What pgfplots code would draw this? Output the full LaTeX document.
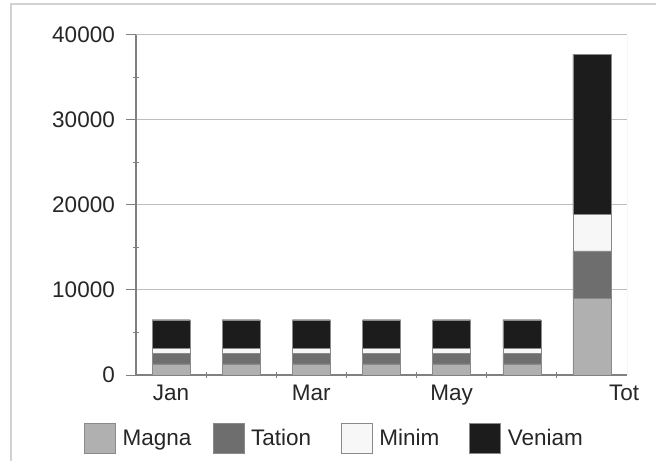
\documentclass[border=0pt]{standalone}
\usepackage{pgfplots}
\pgfplotsset{compat=1.18}
\usepackage{fontspec}
\setmainfont{Liberation Sans}
\definecolor{magna}{HTML}{B0B0B0}
\definecolor{tation}{HTML}{6E6E6E}
\definecolor{minim}{HTML}{F7F7F7}
\definecolor{veniam}{HTML}{1C1C1C}
\definecolor{bardraw}{HTML}{8A8A8A}
\definecolor{gridgray}{HTML}{BDBDBD}
\definecolor{axisgray}{HTML}{808080}
\definecolor{framegray}{HTML}{D2D2D2}
\definecolor{textgray}{HTML}{262626}
\begin{document}
\begin{tikzpicture}
\path[use as bounding box] (0,0) rectangle (656bp,461bp);
\draw[color=framegray, line width=2.2bp] (11bp,0) -- (11bp,457bp) -- (656bp,457bp);
\begin{axis}[
  at={(136bp,86bp)}, anchor=south west,
  width=491bp, height=340bp, scale only axis,
  xmin=-0.5, xmax=6.5, ymin=0, ymax=40000,
  ybar stacked, bar width=38bp,
  axis x line*=bottom, axis y line*=left,
  axis line style={color=axisgray, line width=1.3bp},
  ymajorgrids, grid style={color=gridgray, line width=1bp},
  ytick={0,10000,20000,30000,40000},
  minor ytick={5000,15000,25000,35000},
  xtick={0,2,4,6.46}, xticklabels={Jan,Mar,May,Tot},
  minor xtick={0.5,1.5,2.5,3.5,4.5,5.5},
  tick align=inside,
  major tick length=10bp, minor tick length=6bp,
  every tick/.style={color=axisgray, line width=1bp},
  major y tick style={xshift=-10bp},
  minor y tick style={xshift=-3bp},
  minor x tick style={yshift=-3bp},
  major x tick style={draw=none},
  scaled y ticks=false,
  /pgf/number format/assume math mode=true,
  yticklabel style={/pgf/number format/1000 sep={}, anchor=east, inner sep=0pt, xshift=-21bp},
  xticklabel style={anchor=north, inner sep=0pt, yshift=-10bp},
  tick label style={font=\fontsize{22.5bp}{27bp}\selectfont, text=textgray},
  legend columns=4,
  legend cell align=left,
  legend image code/.code={\draw[#1] (0bp,-15bp) rectangle (31bp,15bp);},
  legend style={at={(-0.1059,-0.1403)}, anchor=north west, draw=none, fill=none,
    inner sep=0pt, column sep=7bp, font=\fontsize{22.5bp}{27bp}\selectfont, text=textgray,
    nodes={inner sep=0pt, text width=83bp, align=left}},
]
\addplot[fill=magna, draw=bardraw] coordinates {(0,1300) (1,1300) (2,1300) (3,1300) (4,1300) (5,1300) (6,9000)};
\addplot[fill=tation, draw=bardraw] coordinates {(0,1250) (1,1250) (2,1250) (3,1250) (4,1250) (5,1250) (6,5600)};
\addplot[fill=minim, draw=bardraw] coordinates {(0,600) (1,600) (2,600) (3,600) (4,600) (5,600) (6,4300)};
\addplot[fill=veniam, draw=bardraw] coordinates {(0,3350) (1,3350) (2,3350) (3,3350) (4,3350) (5,3350) (6,18850)};
\legend{Magna,Tation,Minim,Veniam}
\draw[color=gridgray, line width=1bp] (axis cs:6.5,0) -- (axis cs:6.5,40000);
\end{axis}
\end{tikzpicture}
\end{document}
